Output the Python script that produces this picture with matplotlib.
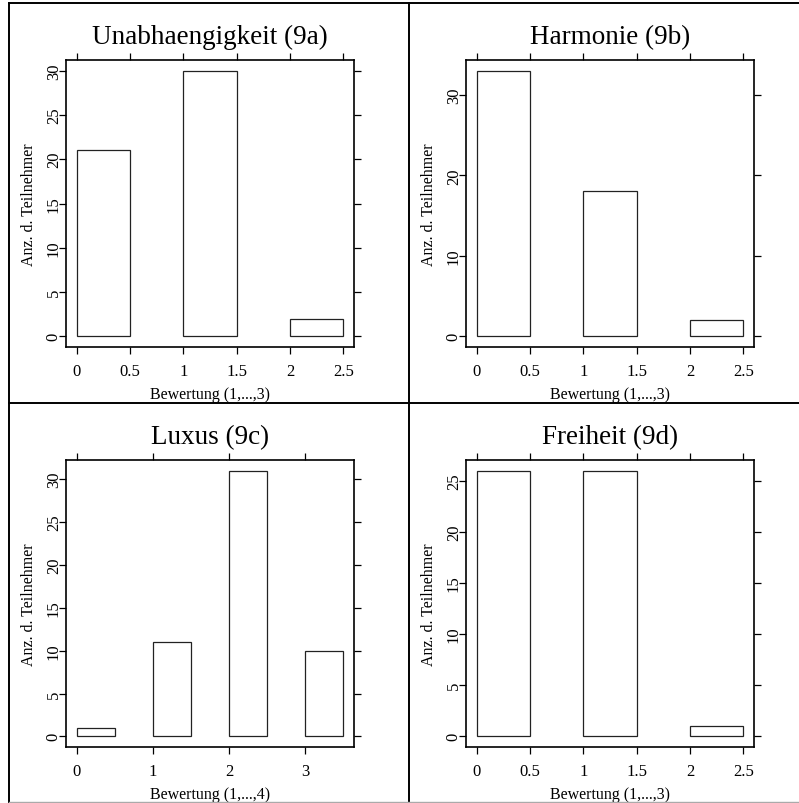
import matplotlib
matplotlib.use('Agg')
import matplotlib.pyplot as plt
from matplotlib.lines import Line2D

plt.rcParams['font.family'] = 'Liberation Serif'

# panel data: left edges of the bins and counts
titles = ['Unabhaengigkeit (9a)', 'Harmonie (9b)', 'Luxus (9c)', 'Freiheit (9d)']
xlabels = ['Bewertung (1,...,3)', 'Bewertung (1,...,3)',
           'Bewertung (1,...,4)', 'Bewertung (1,...,3)']
ylabel = 'Anz. d. Teilnehmer'
bins_9a = [0, 1, 2]
counts_9a = [21, 30, 2]
bins_9b = [0, 1, 2]
counts_9b = [33, 18, 2]
bins_9c = [0, 1, 2, 3]
counts_9c = [1, 11, 31, 10]
bins_9d = [0, 1, 2]
counts_9d = [26, 26, 1]
xticks_3 = [0, 0.5, 1, 1.5, 2, 2.5]
xticks_4 = [0, 1, 2, 3]
yticks_9a = [0, 5, 10, 15, 20, 25, 30]
yticks_9b = [0, 10, 20, 30]
yticks_9c = [0, 5, 10, 15, 20, 25, 30]
yticks_9d = [0, 5, 10, 15, 20, 25]

W, H = 799, 804
fig = plt.figure(figsize=(W / 100, H / 100), dpi=100)

panels = [
    (bins_9a, counts_9a, xticks_3, yticks_9a, 66, 61),
    (bins_9b, counts_9b, xticks_3, yticks_9b, 466, 61),
    (bins_9c, counts_9c, xticks_4, yticks_9c, 66, 461),
    (bins_9d, counts_9d, xticks_3, yticks_9d, 466, 461),
]

for i, (bins, counts, xt, yt, px, py) in enumerate(panels):
    ax = fig.add_axes([px / W, 1 - (py + 287) / H, 288 / W, 287 / H])
    ax.bar(bins, counts, width=0.5, align='edge', color='white',
           edgecolor='#222222', linewidth=0.9)
    xmax = max(bins) + 0.5
    ymax = max(counts)
    ax.set_xlim(-0.04 * xmax, xmax * 1.04)
    ax.set_ylim(-0.04 * ymax, ymax * 1.04)
    ax.set_xticks(xt)
    ax.set_xticklabels([('%g' % v) for v in xt])
    ax.set_yticks(yt)
    ax.set_yticklabels([str(v) for v in yt], rotation=90, va='center')
    ax.tick_params(direction='out', length=5, width=0.9, labelsize=12,
                   top=True, right=True, labeltop=False, labelright=False)
    ax.tick_params(axis='x', pad=6.5)
    ax.tick_params(axis='y', pad=-2)
    for s in ax.spines.values():
        s.set_linewidth(1.2)
    ax.set_xlabel(xlabels[i], fontsize=11.5, labelpad=5)
    ax.set_ylabel(ylabel, fontsize=11.5, labelpad=6.5)
    ax.set_title(titles[i], fontsize=19.5, pad=12)

# frame lines around the four panels
def fline(x0, y0, x1, y1, color='black', lw=1.4):
    fig.add_artist(Line2D([x0 / W, x1 / W], [1 - y0 / H, 1 - y1 / H],
                          color=color, linewidth=lw))

fline(9, 4, W, 4)
fline(9, 4, 9, H)
fline(409, 4, 409, H)
fline(9, 404, W, 404)
fline(9, 803, W, 803, color='#aaaaaa', lw=1.0)

fig.savefig('out.png', dpi=100)
